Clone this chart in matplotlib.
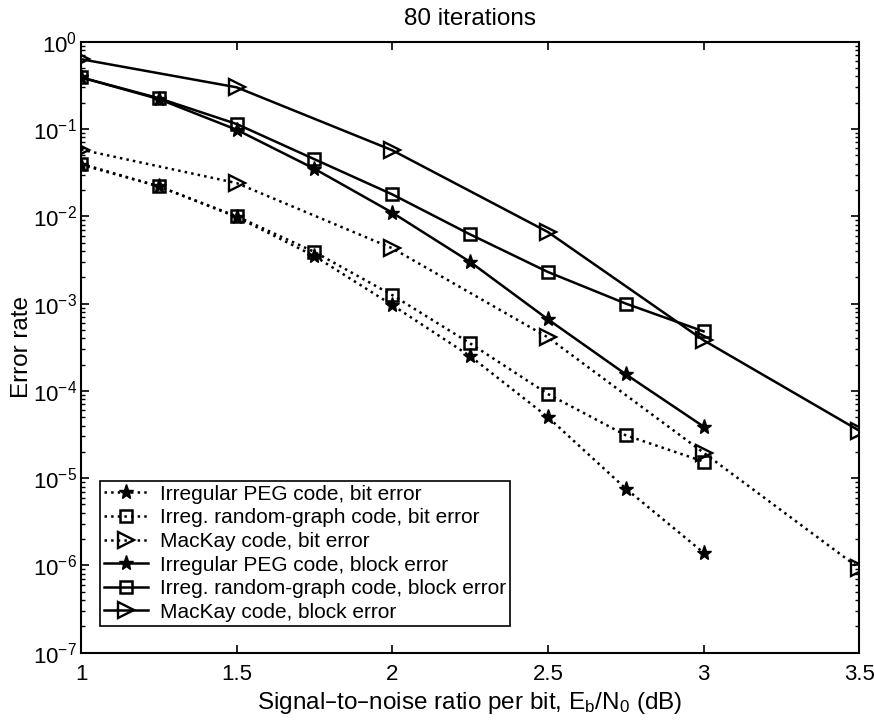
"""
Error rate vs Eb/N0 for PEG, random-graph and MacKay LDPC codes (80 iterations).
"""
import numpy as np
import matplotlib
matplotlib.use("Agg")
import matplotlib.pyplot as plt

plt.rcParams['font.family'] = ['Liberation Sans', 'DejaVu Sans']

# SNR points (dB)
snr_quarter = [1.0, 1.25, 1.5, 1.75, 2.0, 2.25, 2.5, 2.75, 3.0]
snr_mackay = [1.0, 1.5, 2.0, 2.5, 3.0, 3.5]

# bit error rates
peg_bit = [0.039, 0.022, 0.0098, 0.0035, 9.6e-4, 2.5e-4, 5.0e-5, 7.6e-6, 1.4e-6]
rand_bit = [0.040, 0.022, 0.010, 0.0039, 1.25e-3, 3.5e-4, 9.2e-5, 3.1e-5, 1.55e-5]
mackay_bit = [0.058, 0.024, 0.0043, 4.1e-4, 1.96e-5, 9.3e-7]

# block error rates
peg_block = [0.39, 0.22, 0.098, 0.035, 0.011, 0.0030, 6.6e-4, 1.55e-4, 3.9e-5]
rand_block = [0.39, 0.225, 0.114, 0.045, 0.0178, 0.0062, 0.0023, 1.0e-3, 4.8e-4]
mackay_block = [0.63, 0.30, 0.057, 0.0066, 3.8e-4, 3.5e-5]

fig = plt.figure(figsize=(8.74, 7.21), dpi=100)
ax = fig.add_axes([0.0927, 0.0947, 0.8903, 0.8475])

star = dict(marker='*', markersize=11, markerfacecolor='k', markeredgecolor='k')
square = dict(marker='s', markersize=8, markerfacecolor='none', markeredgecolor='k', markeredgewidth=1.8)
tri = dict(marker='>', markersize=11, markerfacecolor='none', markeredgecolor='k', markeredgewidth=1.7)

ax.semilogy(snr_quarter, peg_bit, 'k:', lw=1.8, label='Irregular PEG code, bit error', **star)
ax.semilogy(snr_quarter, rand_bit, 'k:', lw=1.8, label='Irreg. random-graph code, bit error', **square)
ax.semilogy(snr_mackay, mackay_bit, 'k:', lw=1.8, label='MacKay code, bit error', **tri)
ax.semilogy(snr_quarter, peg_block, 'k-', lw=1.8, label='Irregular PEG code, block error', **star)
ax.semilogy(snr_quarter, rand_block, 'k-', lw=1.8, label='Irreg. random-graph code, block error', **square)
ax.semilogy(snr_mackay, mackay_block, 'k-', lw=1.8, label='MacKay code, block error', **tri)

ax.set_xlim(1, 3.5)
ax.set_ylim(1e-7, 1)
ax.set_xticks([1, 1.5, 2, 2.5, 3, 3.5])
ax.set_xticklabels(['1', '1.5', '2', '2.5', '3', '3.5'])
ax.set_yticks([10.0 ** k for k in range(-7, 1)])
ax.tick_params(which='both', direction='in', top=True, right=True, labelsize=16)
ax.tick_params(which='major', length=6, width=1.2)
ax.tick_params(which='minor', length=3, width=1.0)
ax.tick_params(axis='x', pad=8)
ax.tick_params(axis='y', pad=3)
for s in ax.spines.values():
    s.set_linewidth(1.5)

ax.set_title('80 iterations', fontsize=17.5, pad=12)
ax.set_xlabel('Signal\u2013to\u2013noise ratio per bit, $\\mathregular{E_b/N_0}$ (dB)', fontsize=17.5, labelpad=4)
ax.set_ylabel('Error rate', fontsize=17.5, labelpad=0)

leg = ax.legend(loc='lower left', bbox_to_anchor=(0.024, 0.044), fontsize=15,
                frameon=True, fancybox=False, edgecolor='k', framealpha=1,
                handlelength=2.1, handletextpad=0.6, labelspacing=0.22,
                borderpad=0.2, borderaxespad=0)
leg.get_frame().set_linewidth(1.2)

fig.savefig('out.png', dpi=100)
